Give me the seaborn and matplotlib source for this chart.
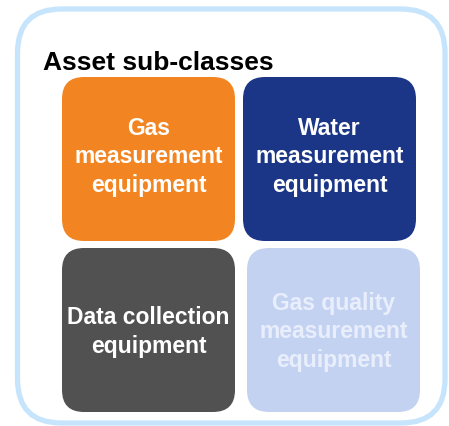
import matplotlib
matplotlib.use("Agg")
import matplotlib.pyplot as plt
from matplotlib.patches import FancyBboxPatch
import seaborn as sns

# Data
title = "Asset sub-classes"
categories = ["Gas\nmeasurement\nequipment",
              "Water\nmeasurement\nequipment",
              "Data collection\nequipment",
              "Gas quality\nmeasurement\nequipment"]
box_colors = ["#F28522", "#1B3686", "#515151", "#C4D2F2"]
text_colors = ["#FFFFFF", "#FFFFFF", "#FFFFFF", "#E8EEFB"]
grid_rows = [0, 0, 1, 1]
grid_cols = [0, 1, 0, 1]

sns.set_theme(style="white")
plt.rcParams['font.family'] = ['Liberation Sans', 'DejaVu Sans']

W, H = 449, 427
fig = plt.figure(figsize=(W / 100, H / 100), dpi=100)
ax = fig.add_axes([0, 0, 1, 1])
ax.set_xlim(0, W)
ax.set_ylim(H, 0)
ax.axis("off")

# outer rounded frame
frame = FancyBboxPatch((17.5, 10), 427.5, 414, boxstyle="round,pad=0,rounding_size=44",
                       facecolor="white", edgecolor="#C6E4FC", linewidth=3.8)
ax.add_patch(frame)

ax.text(43, 70, title, fontsize=19, fontweight="bold", color="black",
        ha="left", va="baseline")

# grid layout
col_x = [[62, 243], [62, 247]]
row_y = [78, 249]
row_dy = [-3, 1]
bw, bh = 173, 164
for cat, fc, tc, r, c in zip(categories, box_colors, text_colors, grid_rows, grid_cols):
    x0 = col_x[r][c]
    y0 = row_y[r]
    p = FancyBboxPatch((x0, y0), bw, bh, boxstyle="round,pad=0,rounding_size=22",
                       facecolor=fc, edgecolor="none")
    ax.add_patch(p)
    ax.text(x0 + bw / 2, y0 + bh / 2 + row_dy[r], cat, fontsize=16.5, fontweight="bold",
            color=tc, ha="center", va="center", linespacing=1.32)

fig.savefig("out.png", dpi=100)
